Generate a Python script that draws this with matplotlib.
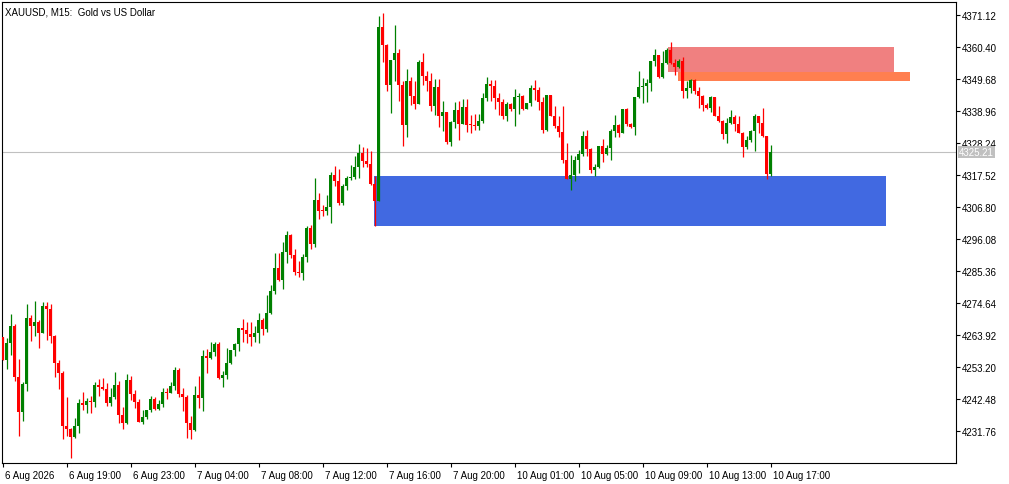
import numpy as np
import matplotlib.pyplot as plt
import matplotlib.transforms as mtransforms
from matplotlib.patches import Rectangle

plt.rcParams['font.family'] = ['Liberation Sans', 'DejaVu Sans']

# M15 candles, open = previous close
first_open = 4263.1
closes = [4255.6, 4261.2, 4266.9, 4249.9, 4238.2, 4247.5, 4269.6, 4266.9, 4268.2, 4264.7,
          4273.6, 4272.7, 4263.7, 4254.6, 4251.3, 4233.5, 4232.5, 4229.8, 4233.4, 4241.1,
          4240.6, 4241.8, 4241.6, 4247.1, 4246.6, 4245.9, 4241.2, 4243.1, 4247.1, 4237.2,
          4234.5, 4248.8, 4244.2, 4241.6, 4234.9, 4236.4, 4238.8, 4242.4, 4239.2, 4240.7,
          4244.8, 4244.6, 4246.8, 4252.2, 4244.2, 4243.2, 4234.5, 4232.2, 4243.8, 4242.9,
          4256.9, 4256.3, 4258.2, 4261.0, 4249.5, 4250.5, 4254.5, 4258.9, 4260.9, 4266.2,
          4265.6, 4264.2, 4263.3, 4264.6, 4268.9, 4265.9, 4271.3, 4278.6, 4286.3, 4282.4,
          4291.7, 4297.4, 4290.8, 4285.1, 4284.8, 4290.0, 4299.7, 4294.5, 4309.1, 4305.5,
          4305.4, 4306.8, 4317.5, 4315.6, 4308.2, 4313.9, 4316.5, 4316.8, 4320.2, 4325.0,
          4322.3, 4321.3, 4314.6, 4308.9, 4367.1, 4361.2, 4347.8, 4356.0, 4358.5, 4347.8,
          4334.4, 4349.1, 4344.1, 4341.4, 4355.5, 4350.8, 4349.1, 4340.7, 4347.1, 4337.4,
          4338.7, 4328.7, 4335.4, 4339.4, 4334.7, 4340.4, 4334.4, 4334.2, 4334.0, 4335.7,
          4343.4, 4348.1, 4347.4, 4343.4, 4342.1, 4337.4, 4341.4, 4339.7, 4343.8, 4344.0,
          4339.7, 4341.7, 4346.8, 4346.1, 4342.1, 4332.7, 4344.4, 4337.4, 4334.0, 4332.0,
          4322.6, 4316.3, 4317.6, 4322.6, 4324.6, 4330.7, 4326.3, 4319.3, 4320.3, 4327.3,
          4324.6, 4326.7, 4332.4, 4334.4, 4331.7, 4339.7, 4334.7, 4333.7, 4343.8, 4347.1,
          4347.4, 4348.5, 4355.8, 4357.8, 4350.5, 4355.2, 4359.5, 4355.2, 4353.8, 4355.8,
          4345.8, 4346.8, 4349.5, 4345.8, 4344.1, 4341.1, 4340.1, 4343.8, 4337.4, 4335.7,
          4331.4, 4335.1, 4337.1, 4334.7, 4331.7, 4327.0, 4329.4, 4332.4, 4337.4, 4335.1,
          4330.7, 4318.0, 4325.21]
highs = [4263.1, 4262.9, 4270.9, 4267.6, 4255.8, 4248.3, 4274.3, 4270.6, 4275.2, 4268.9,
         4274.9, 4274.9, 4274.3, 4263.9, 4255.6, 4251.9, 4243.2, 4232.7, 4236.1, 4242.4,
         4244.8, 4242.9, 4243.6, 4248.3, 4249.3, 4249.5, 4247.9, 4246.1, 4251.5, 4248.5,
         4239.9, 4250.8, 4250.2, 4245.6, 4242.6, 4238.9, 4238.9, 4243.5, 4243.2, 4242.2,
         4246.2, 4246.1, 4248.3, 4253.2, 4252.8, 4246.1, 4243.9, 4236.8, 4246.9, 4250.2,
         4258.9, 4259.2, 4261.5, 4261.5, 4261.5, 4251.8, 4259.5, 4258.9, 4261.2, 4266.2,
         4269.2, 4268.2, 4268.2, 4266.9, 4271.3, 4269.6, 4277.3, 4280.6, 4291.4, 4291.4,
         4295.0, 4298.7, 4297.7, 4292.8, 4288.7, 4291.0, 4300.4, 4300.7, 4316.5, 4311.5,
         4307.4, 4310.9, 4318.5, 4320.5, 4319.6, 4314.6, 4317.3, 4320.8, 4324.0, 4328.0,
         4327.0, 4326.5, 4325.5, 4317.3, 4370.9, 4371.8, 4361.4, 4356.0, 4367.9, 4359.8,
         4349.1, 4353.1, 4350.5, 4349.1, 4356.2, 4358.5, 4352.5, 4351.8, 4349.8, 4349.8,
         4342.4, 4338.7, 4335.6, 4342.1, 4342.4, 4343.1, 4343.1, 4337.7, 4338.1, 4338.1,
         4345.1, 4350.5, 4349.5, 4349.5, 4345.1, 4343.1, 4342.1, 4341.7, 4346.4, 4345.1,
         4344.4, 4341.7, 4347.8, 4349.5, 4347.1, 4343.8, 4344.4, 4344.4, 4340.7, 4337.4,
         4340.7, 4328.4, 4324.3, 4324.0, 4326.0, 4332.4, 4332.7, 4326.7, 4321.3, 4327.3,
         4329.7, 4327.7, 4333.0, 4337.7, 4334.7, 4339.7, 4340.1, 4335.1, 4343.8, 4352.5,
         4350.1, 4349.8, 4355.8, 4359.8, 4357.8, 4359.2, 4360.2, 4362.2, 4356.5, 4356.5,
         4357.2, 4349.1, 4349.8, 4349.8, 4347.1, 4344.4, 4341.7, 4344.1, 4343.8, 4340.7,
         4336.0, 4336.7, 4339.4, 4337.7, 4337.4, 4332.0, 4330.7, 4332.7, 4338.1, 4337.4,
         4340.1, 4330.7, 4327.7]
lows = [4255.6, 4252.5, 4257.3, 4248.6, 4230.2, 4235.2, 4245.2, 4262.0, 4263.7, 4259.5,
        4264.7, 4262.2, 4261.2, 4249.9, 4245.9, 4229.2, 4230.2, 4222.8, 4229.5, 4231.2,
        4238.9, 4237.9, 4237.9, 4239.9, 4243.6, 4245.6, 4240.2, 4240.2, 4242.6, 4234.5,
        4232.5, 4234.2, 4242.2, 4239.5, 4234.9, 4234.2, 4235.9, 4238.2, 4238.8, 4238.8,
        4239.9, 4242.6, 4244.5, 4245.6, 4243.1, 4238.5, 4229.5, 4229.2, 4231.8, 4239.5,
        4238.5, 4251.3, 4256.0, 4257.0, 4249.2, 4246.6, 4249.3, 4254.2, 4257.0, 4258.6,
        4261.5, 4261.2, 4260.3, 4261.5, 4261.3, 4264.0, 4265.0, 4271.0, 4277.6, 4282.1,
        4279.4, 4288.1, 4289.8, 4284.1, 4283.4, 4282.4, 4288.4, 4292.8, 4293.5, 4302.9,
        4303.9, 4304.2, 4301.5, 4313.9, 4307.6, 4307.6, 4312.6, 4315.9, 4316.2, 4316.6,
        4320.3, 4320.3, 4314.3, 4300.5, 4308.9, 4355.3, 4345.8, 4338.4, 4349.1, 4342.4,
        4327.3, 4330.4, 4341.1, 4339.7, 4341.4, 4347.8, 4345.8, 4339.1, 4337.7, 4333.7,
        4332.4, 4328.0, 4327.3, 4333.4, 4329.4, 4334.7, 4332.0, 4331.7, 4332.7, 4332.7,
        4335.1, 4342.4, 4342.4, 4339.7, 4337.7, 4336.4, 4335.7, 4339.1, 4334.0, 4338.1,
        4339.4, 4339.7, 4340.7, 4342.8, 4339.4, 4331.7, 4332.4, 4337.4, 4333.4, 4330.4,
        4321.6, 4316.3, 4312.6, 4315.6, 4318.3, 4324.0, 4324.0, 4318.3, 4317.3, 4320.0,
        4322.0, 4324.3, 4322.7, 4330.4, 4330.4, 4331.7, 4334.0, 4333.4, 4331.0, 4343.4,
        4341.7, 4342.1, 4345.8, 4354.1, 4350.1, 4350.1, 4354.8, 4354.8, 4351.1, 4353.5,
        4343.4, 4343.4, 4345.1, 4344.8, 4340.1, 4339.1, 4339.7, 4338.7, 4337.4, 4335.4,
        4329.7, 4328.4, 4334.7, 4332.4, 4331.7, 4323.7, 4326.3, 4328.7, 4325.7, 4331.7,
        4330.4, 4316.3, 4317.3]

time_labels = ["6 Aug 2026", "6 Aug 19:00", "6 Aug 23:00", "7 Aug 04:00", "7 Aug 08:00",
               "7 Aug 12:00", "7 Aug 16:00", "7 Aug 20:00", "10 Aug 01:00", "10 Aug 05:00",
               "10 Aug 09:00", "10 Aug 13:00", "10 Aug 17:00"]
label_bars = [0, 16, 32, 48, 64, 80, 96, 112, 128, 144, 160, 176, 192]
price_ticks = [4371.12 - 10.72 * k for k in range(14)]

# zones: (start bar, end bar, low, high, colour)
zones = [(92.8, 220.8, 4300.4, 4317.2, "#4169E1"),
         (166.3, 222.8, 4352.0, 4360.3, "#F08080"),
         (168.8, 226.8, 4349.1, 4352.0, "#FF7F50")]
last_price = 4325.21

closes = np.array(closes)
opens = np.concatenate([[first_open], closes[:-1]])
highs = np.maximum(np.array(highs), np.maximum(opens, closes))
lows = np.minimum(np.array(lows), np.minimum(opens, closes))
x = np.arange(len(closes))
up = closes >= opens
cols = np.where(up, "#008000", "#FF0000")

fig = plt.figure(figsize=(10.09, 4.85), dpi=100)
ax = fig.add_axes([2 / 1009, 21 / 485, 954 / 1009, 461 / 485])
ax.set_xlim(-0.175, 238.3)
ax.set_ylim(4221.0, 4375.5)

for z0, z1, lo, hi, c in zones:
    ax.add_patch(Rectangle((z0, lo), z1 - z0, hi - lo, color=c, lw=0, zorder=1))

ax.axhline(last_price, color="#C0C0C0", lw=0.8, zorder=1.5)

ax.vlines(x, lows, highs, colors=cols, lw=0.9, zorder=2)
body = np.maximum(np.abs(closes - opens), 0.3)
ax.bar(x, body, bottom=np.minimum(opens, closes), width=0.75, color=cols, lw=0, zorder=3)

ax.yaxis.tick_right()
ax.set_yticks(price_ticks)
ax.set_yticklabels([f"{p:.2f}" for p in price_ticks])
ax.tick_params(axis="y", length=3, width=0.8, labelsize=7, pad=1)
ax.set_xticks(label_bars)
ax.set_xticklabels(time_labels)
ax.tick_params(axis="x", length=3, width=0.8, labelsize=7, pad=2)
off = mtransforms.ScaledTranslation(2 / 100, 0, fig.dpi_scale_trans)
for lab in ax.get_xticklabels():
    lab.set_horizontalalignment("left")
    lab.set_transform(lab.get_transform() + off)
for s in ax.spines.values():
    s.set_linewidth(0.8)

ax.text(1.003, last_price, f"{last_price:.2f}", transform=ax.get_yaxis_transform(),
        fontsize=7, color="white", va="center", ha="left",
        bbox=dict(facecolor="#C0C0C0", edgecolor="none", pad=1))
ax.text(0.003, 0.99, "XAUUSD, M15:  Gold vs US Dollar", transform=ax.transAxes,
        fontsize=7, va="top", ha="left")

fig.savefig("out.png", dpi=100)
